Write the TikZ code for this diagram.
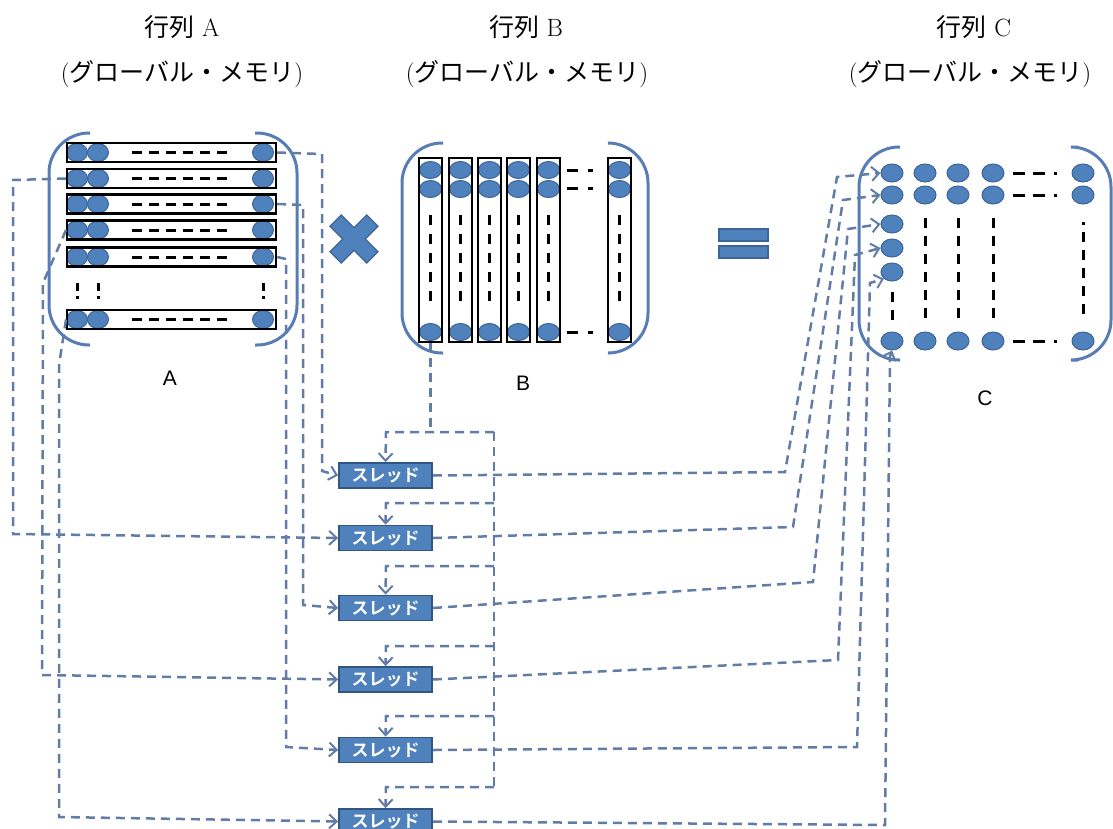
\documentclass[tikz,border=0pt]{standalone}
\usepackage{fontspec}
\usetikzlibrary{arrows.meta,shapes.geometric}
\newfontfamily\jpfont{Noto Sans CJK JP}
\newfontfamily\jpbold{Noto Sans CJK JP Bold}
\newfontfamily\labelfont{Liberation Sans}
\definecolor{linkc}{RGB}{98,124,168}
\definecolor{brackc}{RGB}{88,124,180}
\definecolor{cellfill}{RGB}{79,129,189}
\definecolor{cellline}{RGB}{60,100,150}
\definecolor{boxline}{RGB}{50,86,130}

\tikzset{
  cell/.style={ellipse, draw=cellline, line width=1pt, fill=cellfill,
    minimum width=21pt, minimum height=18pt, inner sep=0pt},
  rowbox/.style={draw=black, line width=2.4pt, minimum width=209pt,
    minimum height=19pt, inner sep=0pt},
  colbox/.style={draw=black, line width=2.4pt, minimum width=23pt,
    minimum height=184pt, inner sep=0pt},
  paren/.style={draw=brackc, line width=3pt, rounded corners=40pt},
  ellip/.style={draw=black, line width=3pt},
  wire/.style={draw=linkc, line width=2.5pt, dash pattern=on 9pt off 6pt},
  arrowed/.style={-{Straight Barb[length=7.5pt,width=14pt,line width=2pt]}},
  thread/.style={rectangle, draw=boxline, line width=1.8pt, fill=cellfill,
    minimum width=93pt, minimum height=25pt, inner sep=0pt, text=white,
    font=\jpbold\fontsize{17}{17}\selectfont},
  heading/.style={inner sep=0pt, font=\fontsize{25}{28}\selectfont},
  letter/.style={inner sep=0pt, font=\labelfont\fontsize{21}{21}\selectfont},
  symb/.style={draw=cellline, fill=cellfill, line width=1.2pt}
}

\begin{document}
\begin{tikzpicture}[x=1pt,y=-1pt]
\useasboundingbox (0,0) rectangle (1113,828);
\begin{scope}
\clip (0,0) rectangle (1113,828);

% headings
\node[heading] (ha1) at (182,27) {{\jpfont 行列}\ A};
\node[heading] (ha2) at (182,74) {({\jpfont グローバル・メモリ})};
\node[heading] (hb1) at (526,27) {{\jpfont 行列}\ B};
\node[heading] (hb2) at (527,74) {({\jpfont グローバル・メモリ})};
\node[heading] (hc1) at (974,27) {{\jpfont 行列}\ C};
\node[heading] (hc2) at (970,74) {({\jpfont グローバル・メモリ})};

% thread boxes
\foreach \k/\yy in {1/475.5,2/538,3/608,4/679.5,5/750,6/821.5}
  \node[thread] (t\k) at (385.5,\yy) {スレッド};

% matrix A cells (drawn as nodes so the links can reach them)
\foreach \i/\yy in {1/152.5,2/178.5,3/204,4/230,5/257,6/319.5} {
  \node[cell] (a\i1) at (77,\yy) {};
  \node[cell] (a\i2) at (98,\yy) {};
  \node[cell] (a\i3) at (263,\yy) {};
  \node[rowbox] (a\i) at (171.5,\yy) {};
  \draw[ellip, dash pattern=on 10pt off 7pt] (132,\yy) -- (230,\yy);
}
\foreach \xx in {77,98,263}
  \draw[ellip, dash pattern=on 8pt off 5pt on 3pt off 20pt] (\xx,283) -- (\xx,299);

% matrix B columns
\foreach \j/\xx in {1/430.5,2/460.5,3/489.5,4/518.5,5/548.5,6/619.5} {
  \node[cell, minimum width=22pt, minimum height=17pt] (b\j1) at (\xx,170) {};
  \node[cell, minimum width=22pt, minimum height=17pt] (b\j2) at (\xx,189) {};
  \node[cell, minimum width=22pt, minimum height=17pt] (b\j3) at (\xx,332) {};
  \node[colbox] (b\j) at (\xx,250) {};
  \draw[ellip, dash pattern=on 10pt off 9pt] (\xx,215) -- (\xx,301);
}
\foreach \yy in {170,188,332}
  \draw[ellip, dash pattern=on 11pt off 10pt on 5pt off 20pt] (567,\yy) -- (593,\yy);

% matrix C cells
\foreach \r/\yy in {1/173,2/195,6/341}
  \foreach \k/\xx in {1/892,2/925,3/958,4/993,5/1083}
    \node[cell, minimum width=22pt] (c\r\k) at (\xx,\yy) {};
\foreach \r/\yy in {3/224,4/248,5/272}
  \node[cell, minimum width=22pt] (c\r1) at (892,\yy) {};
\foreach \yy in {173,195,341}
  \draw[ellip, dash pattern=on 12pt off 8pt on 12pt off 9pt on 2.5pt off 20pt] (1013,\yy) -- (1058,\yy);
\draw[ellip, dash pattern=on 10pt off 8pt] (892,292) -- (892,320);
\foreach \xx in {925,958,993}
  \draw[ellip, dash pattern=on 10pt off 8pt] (\xx,218) -- (\xx,320);
\draw[ellip] (1083,222) -- (1083,225);
\draw[ellip, dash pattern=on 10pt off 8pt] (1083,232) -- (1083,320);

% brackets
\draw[paren] (90,133) -- (49,133) -- (49,345) -- (90,345);
\draw[paren] (255,133) -- (297,133) -- (297,345) -- (255,345);
\draw[paren] (443,143) -- (402,143) -- (402,353) -- (443,353);
\draw[paren] (608,143) -- (648,143) -- (648,353) -- (608,353);
\draw[paren] (900,147) -- (859,147) -- (859,360) -- (900,360);
\draw[paren] (1078,147) -- (1111,147) -- (1111,360) -- (1078,360);

% operators
\filldraw[symb, shift={(354,239)}, rotate=45]
  (-26,-8) -- (-8,-8) -- (-8,-26) -- (8,-26) -- (8,-8) -- (26,-8) --
  (26,8) -- (8,8) -- (8,26) -- (-8,26) -- (-8,8) -- (-26,8) -- cycle;
\filldraw[symb] (719,229) rectangle (768,241);
\filldraw[symb] (719,246) rectangle (768,258);

% matrix names
\node[letter] (la) at (170,378) {A};
\node[letter] (lb) at (523,383) {B};
\node[letter] (lc) at (985,398) {C};

% rows of A to the threads
\draw[wire, arrowed] (a1.east) -- (322,154) -- (322,471) -- (t1.west);
\draw[wire, arrowed] (a2.west) -- (13,180) -- (13,534) -- (t2.west);
\draw[wire, arrowed] (a3.east) -- (303,205) -- (303,605) -- (t3.west);
\draw[wire, arrowed] (a41.west) -- (43,283) -- (42,675) -- (t4.west);
\draw[wire, arrowed] (a5.east) -- (286,259) -- (286,747) -- (t5.west);
\draw[wire, arrowed] (a61.west) -- (59,365) -- (59,817) -- (t6.west);

% column of B shared by every thread
\coordinate (hub) at (430.5,432);
\coordinate (bus) at (494,432);
\draw[wire] (b1.south) -- (hub);
\draw[wire, arrowed] (bus) -- (386,432) -- (t1.north);
\draw[wire] (bus) -- (494,787);
\foreach \k/\yy in {2/503,3/566,4/646,5/716,6/787}
  \draw[wire, arrowed] (494,\yy) -- (386,\yy) -- (t\k.north);

% threads to the cells of C
\draw[wire, arrowed] (t1.east) -- (785,472) -- (837,177) -- (c11.west);
\draw[wire, arrowed] (t2.east) -- (793,527) -- (843,200) -- (c21.west);
\draw[wire, arrowed] (t3.east) -- (813,582) -- (848,229) -- (c31.west);
\draw[wire, arrowed] (t4.east) -- (838,660) -- (855,255) -- (c41.west);
\draw[wire, arrowed] (t5.east) -- (857,747) -- (870,283) -- (c51.south west);
\draw[wire, arrowed] (t6.east) -- (885,825) -- (890,356) -- (c61.south);
\end{scope}
\end{tikzpicture}
\end{document}
